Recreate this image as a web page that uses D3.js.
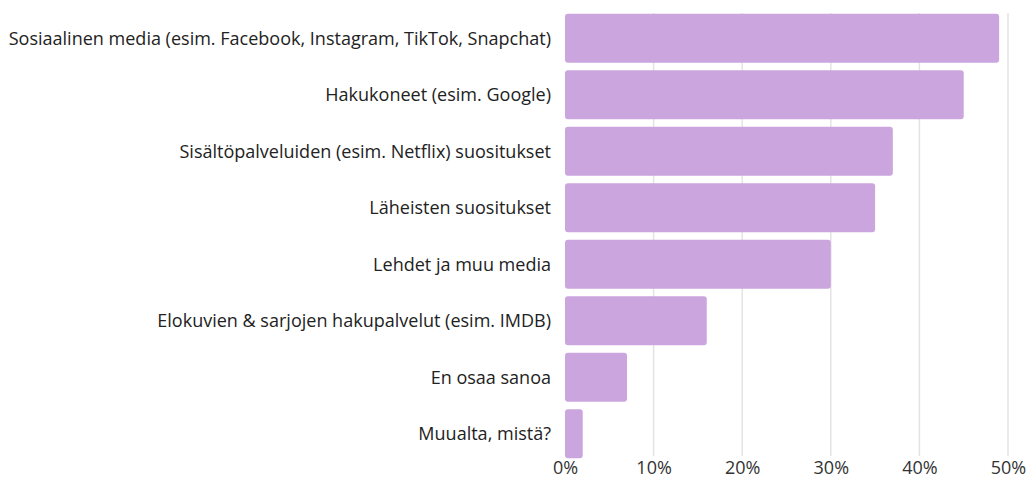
<!DOCTYPE html>
<html><head><meta charset="utf-8">
<script src="https://cdn.jsdelivr.net/npm/d3@7"></script>
<style>body{margin:0;background:#fff;} svg{display:block;}</style>
</head><body>
<svg id="c" width="1028" height="482"></svg>
<script>
const categories = [
  "Sosiaalinen media (esim. Facebook, Instagram, TikTok, Snapchat)",
  "Hakukoneet (esim. Google)",
  "Sisältöpalveluiden (esim. Netflix) suositukset",
  "Läheisten suositukset",
  "Lehdet ja muu media",
  "Elokuvien & sarjojen hakupalvelut (esim. IMDB)",
  "En osaa sanoa",
  "Muualta, mistä?"
];
const values = [49, 45, 37, 35, 30, 16, 7, 2];
const tickValues = [0, 10, 20, 30, 40, 50];

const svg = d3.select("#c");
const x = d3.scaleLinear().domain([0, 50]).range([565, 1008]);
const y = d3.scaleBand().domain(categories).range([8, 464]).paddingInner(0.13).paddingOuter(0.1);

svg.append("g").selectAll("line").data(tickValues.slice(1)).join("line")
  .attr("x1", d => x(d)).attr("x2", d => x(d))
  .attr("y1", 13).attr("y2", 456)
  .attr("stroke", "#e3e3e3").attr("stroke-width", 1.5);

svg.append("g").selectAll("rect").data(values).join("rect")
  .attr("x", x(0))
  .attr("y", (d, i) => y(categories[i]))
  .attr("width", d => x(d) - x(0))
  .attr("height", y.bandwidth())
  .attr("rx", 3)
  .attr("fill", "#caa5de");

const labels = svg.append("g").selectAll("text").data(categories).join("text")
  .attr("x", 551)
  .attr("y", d => y(d) + y.bandwidth() / 2)
  .attr("dy", "0.35em")
  .attr("text-anchor", "end")
  .attr("font-family", "'Open Sans', sans-serif")
  .attr("font-size", 17)
  .attr("fill", "#222")
  .text(d => d);
const w0 = labels.nodes()[0].getComputedTextLength();
labels.attr("font-size", 17 * 543 / w0);

const axis = d3.axisBottom(x).tickValues(tickValues).tickFormat(d => d + "%").tickSize(0).tickPadding(0);
const ag = svg.append("g").attr("transform", "translate(0,468)").call(axis);
ag.select(".domain").remove();
ag.selectAll("text").attr("dy", "0.35em").attr("y", 0)
  .attr("font-family", "'Open Sans', sans-serif").attr("font-size", 18).attr("fill", "#333");
</script>
</body></html>
